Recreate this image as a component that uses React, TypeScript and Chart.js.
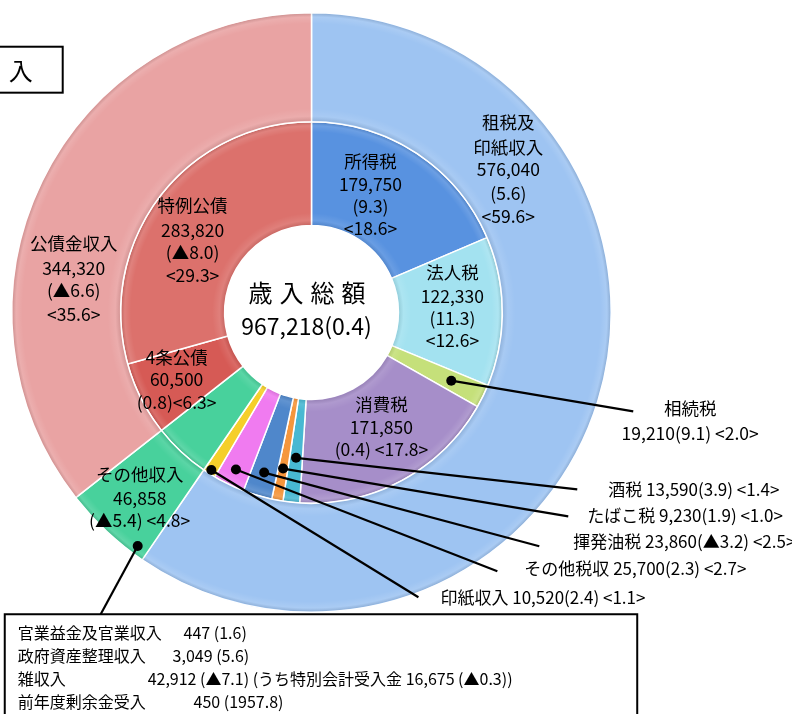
import React, { useEffect, useRef } from 'react';
import { Chart, registerables } from 'chart.js';

Chart.register(...registerables);

// ---- data ----
const outerLabels = ['租税及印紙収入', 'その他収入', '公債金収入'];
const outerValues = [576040, 46858, 344320];
const outerChange = ['5.6', '▲5.4', '▲6.6'];
const outerShare = ['59.6', '4.8', '35.6'];
const outerColors = ['#9ec4f2', '#48d19c', '#e9a3a3'];

const innerLabels = ['所得税', '法人税', '相続税', '消費税', '酒税', 'たばこ税', '揮発油税', 'その他税収', '印紙収入', 'その他収入', '4条公債', '特例公債'];
const innerValues = [179750, 122330, 19210, 171850, 13590, 9230, 23860, 25700, 10520, 46858, 60500, 283820];
const innerChange = ['9.3', '11.3', '9.1', '0.4', '3.9', '1.9', '▲3.2', '2.3', '2.4', '▲5.4', '0.8', '▲8.0'];
const innerShare = ['18.6', '12.6', '2.0', '17.8', '1.4', '1.0', '2.5', '2.7', '1.1', '4.8', '6.3', '29.3'];
const innerColors = ['#5892e0', '#a3e2f0', '#c5e07a', '#a68ec9', '#48b8d2', '#f5963c', '#4f87cb', '#f07bf0', '#f5cf2a', '#48d19c', '#d65a55', '#dc716c'];

const totalLabel = '歳入総額';
const totalValue = 967218;
const totalChange = '0.4';
const titleText = '入';

const otherItems = ['官業益金及官業収入', '政府資産整理収入', '雑収入', '前年度剰余金受入'];
const otherValues = [447, 3049, 42912, 450];
const otherChange = ['1.6', '5.6', '▲7.1', '1957.8'];
const otherNoteLabel = 'うち特別会計受入金';
const otherNoteValue = 16675;
const otherNoteChange = '▲0.3';

const fmt = (v: number) => v.toLocaleString('en-US');
const FONT = '"Noto Sans CJK JP", "Noto Sans", sans-serif';

const bevelPlugin = {
  id: 'bevel',
  afterDatasetsDraw(chart: any) {
    const ctx = chart.ctx as CanvasRenderingContext2D;
    [0, 1].forEach((di) => {
      (chart.getDatasetMeta(di).data as any[]).forEach((arc) => {
        const { x, y, startAngle, endAngle, innerRadius, outerRadius } = arc;
        ctx.save();
        ctx.beginPath();
        ctx.arc(x, y, outerRadius - 0.8, startAngle, endAngle);
        ctx.arc(x, y, innerRadius + 0.8, endAngle, startAngle, true);
        ctx.closePath();
        ctx.clip();
        const g = ctx.createRadialGradient(x, y, innerRadius, x, y, outerRadius);
        g.addColorStop(0, 'rgba(0,0,0,0.10)');
        g.addColorStop(0.05, 'rgba(255,255,255,0.10)');
        g.addColorStop(0.12, 'rgba(255,255,255,0)');
        g.addColorStop(0.9, 'rgba(255,255,255,0)');
        g.addColorStop(0.96, 'rgba(255,255,255,0.12)');
        g.addColorStop(1, 'rgba(0,0,0,0.14)');
        ctx.fillStyle = g;
        ctx.fill();
        ctx.restore();
      });
    });
  },
};

const labelPlugin = {
  id: 'labels',
  afterDatasetsDraw(chart: any) {
    const ctx = chart.ctx as CanvasRenderingContext2D;
    const outer = chart.getDatasetMeta(0).data as any[];
    const inner = chart.getDatasetMeta(1).data as any[];
    const cx = outer[0].x;
    const cy = outer[0].y;
    const s = outer[0].outerRadius / 300;
    const P = (x: number, y: number) => [cx + (x - 311) * s, cy + (y - 313) * s];

    ctx.save();
    ctx.fillStyle = '#000';
    ctx.strokeStyle = '#000';
    ctx.textAlign = 'center';
    ctx.textBaseline = 'middle';
    ctx.font = `17.5px ${FONT}`;

    const block = (x: number, ys: number[], lines: string[]) => {
      lines.forEach((t, i) => {
        const [px, py] = P(x, ys[i]);
        ctx.fillText(t, px, py);
      });
    };

    // outer ring labels
    block(508, [123, 148, 170, 194, 217], [outerLabels[0].slice(0, 3), outerLabels[0].slice(3), fmt(outerValues[0]), `(${outerChange[0]})`, `<${outerShare[0]}>`]);
    block(73, [244, 269, 291, 315], [outerLabels[2], fmt(outerValues[2]), `(${outerChange[2]})`, `<${outerShare[2]}>`]);
    block(139, [475, 499, 521], [outerLabels[1], fmt(outerValues[1]), `(${outerChange[1]}) <${outerShare[1]}>`]);

    // inner ring labels
    block(370, [162, 185, 207, 229], [innerLabels[0], fmt(innerValues[0]), `(${innerChange[0]})`, `<${innerShare[0]}>`]);
    block(452, [273, 297, 319, 341], [innerLabels[1], fmt(innerValues[1]), `(${innerChange[1]})`, `<${innerShare[1]}>`]);
    block(381, [405, 428, 450], [innerLabels[3], fmt(innerValues[3]), `(${innerChange[3]}) <${innerShare[3]}>`]);
    block(192, [206, 231, 253, 276], [innerLabels[11], fmt(innerValues[11]), `(${innerChange[11]})`, `<${innerShare[11]}>`]);
    block(176, [358, 380, 403], [innerLabels[10], fmt(innerValues[10]), `(${innerChange[10]})<${innerShare[10]}>`]);

    // center
    ctx.font = `24px ${FONT}`;
    const chars = totalLabel.split('');
    chars.forEach((c, i) => {
      const [px, py] = P(260 + i * 31, 293);
      ctx.fillText(c, px, py);
    });
    ctx.font = `23px ${FONT}`;
    {
      const [px, py] = P(306, 327);
      ctx.fillText(`${fmt(totalValue)}(${totalChange})`, px, py);
    }

    // leader lines with dots
    ctx.lineWidth = 2.2;
    const dotAt = (arc: any, frac: number, along = 0.5) => {
      const a = arc.startAngle + (arc.endAngle - arc.startAngle) * along;
      const r = arc.innerRadius + (arc.outerRadius - arc.innerRadius) * frac;
      return [arc.x + Math.cos(a) * r, arc.y + Math.sin(a) * r];
    };
    const leader = (from: number[], to: number[]) => {
      const [ex, ey] = P(to[0], to[1]);
      ctx.beginPath();
      ctx.moveTo(from[0], from[1]);
      ctx.lineTo(ex, ey);
      ctx.stroke();
      ctx.beginPath();
      ctx.arc(from[0], from[1], 5, 0, Math.PI * 2);
      ctx.fillStyle = '#000';
      ctx.fill();
    };

    const outsideInner: [number, number, number[]][] = [
      [2, 0.66, [633, 412]],
      [4, 0.57, [577, 490]],
      [5, 0.69, [568, 517]],
      [6, 0.77, [539, 547]],
      [7, 0.84, [497, 572]],
      [8, 0.96, [418, 598]],
    ];
    outsideInner.forEach(([i, f, to]) => leader(dotAt(inner[i], f), to));
    leader(dotAt(outer[1], 0.92, 0.13), [100, 615]);

    ctx.fillStyle = '#000';
    ctx.font = `17.5px ${FONT}`;
    block(690, [409, 434], [innerLabels[2], `${fmt(innerValues[2])}(${innerChange[2]}) <${innerShare[2]}>`]);

    ctx.font = `17px ${FONT}`;
    ctx.textAlign = 'left';
    const singles: [number, number, number][] = [
      [4, 608, 490],
      [5, 587, 516],
      [6, 573, 542],
      [7, 524, 569],
      [8, 440, 598],
    ];
    singles.forEach(([i, x, y]) => {
      const [px, py] = P(x, y);
      ctx.fillText(`${innerLabels[i]} ${fmt(innerValues[i])}(${innerChange[i]}) <${innerShare[i]}>`, px, py);
    });

    // title box (cut at left edge)
    {
      const [bx, by] = P(-6, 47);
      ctx.lineWidth = 2;
      ctx.strokeRect(bx, by, 68 * s, 46 * s);
      ctx.font = `24px ${FONT}`;
      ctx.textAlign = 'center';
      const [tx, ty] = P(20, 71);
      ctx.fillText(titleText, tx, ty);
    }

    // bottom box: breakdown of その他収入
    {
      const [bx, by] = P(4, 615);
      ctx.lineWidth = 2;
      ctx.fillStyle = '#fff';
      ctx.fillRect(bx, by, 633 * s, 130 * s);
      ctx.strokeRect(bx, by, 633 * s, 130 * s);
      ctx.fillStyle = '#000';
      ctx.font = `16px ${FONT}`;
      ctx.textAlign = 'left';
      const rowsY = [634, 657, 680, 703];
      const valX = [183, 172, 147, 193];
      otherItems.forEach((name, i) => {
        const [nx, ny] = P(17, rowsY[i]);
        ctx.fillText(name, nx, ny);
        let txt = `${fmt(otherValues[i])} (${otherChange[i]})`;
        if (i === 2) txt += ` (${otherNoteLabel} ${fmt(otherNoteValue)} (${otherNoteChange}))`;
        const [vx, vy] = P(valX[i], rowsY[i]);
        ctx.fillText(txt, vx, vy);
      });
    }
    ctx.restore();
  },
};

export default function App() {
  const ref = useRef<HTMLCanvasElement | null>(null);
  useEffect(() => {
    if (!ref.current) return;
    const chart = new Chart(ref.current, {
      type: 'doughnut',
      data: {
        labels: innerLabels,
        datasets: [
          {
            label: 'outer',
            data: outerValues,
            backgroundColor: outerColors,
            borderColor: '#ffffff',
            borderWidth: 1.5,
            weight: 109,
          } as any,
          {
            label: 'inner',
            data: innerValues,
            backgroundColor: innerColors,
            borderColor: '#ffffff',
            borderWidth: 1.5,
            weight: 104,
          } as any,
        ],
      },
      options: {
        responsive: false,
        animation: false,
        devicePixelRatio: 1,
        cutout: '29%',
        hoverOffset: 0,
        layout: { padding: { left: 11, top: 12, right: 180, bottom: 101 } },
        plugins: {
          legend: { display: false },
          tooltip: { enabled: false },
        },
      } as any,
      plugins: [bevelPlugin, labelPlugin],
    });
    return () => chart.destroy();
  }, []);
  return (
    <div style={{ position: 'absolute', left: 0, top: 0, width: 792, height: 714, background: '#fff' }}>
      <canvas ref={ref} width={792} height={714} />
    </div>
  );
}
